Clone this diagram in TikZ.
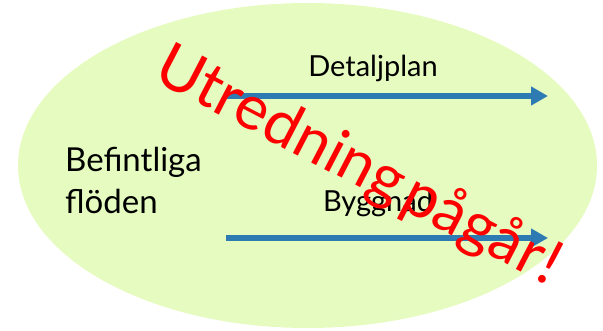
\documentclass[tikz,border=0pt]{standalone}
\usepackage{fontspec}
\setmainfont{Lato}
\usepackage{xcolor}
\definecolor{e6fbc0}{HTML}{E6FBC0}
\definecolor{2e7bb4}{HTML}{2E7BB4}
\usepackage{tikz}
\usetikzlibrary{arrows.meta}

\begin{document}
\begin{tikzpicture}[x=1pt, y=-1pt,
    flow/.style={color=2e7bb4, line width=6pt, -{Triangle[length=17pt, width=18pt]}},
    label/.style={inner sep=0pt, font=\fontsize{29}{35}\selectfont}]
                        \useasboundingbox (0, 0) rectangle (603, 331);

                        \fill[color=e6fbc0] (307.5, 165.5) ellipse [x radius=289.5, y radius=162.5];

                        \node (befintliga) at (65, 172) [anchor=base west, inner sep=0pt, font=\fontsize{33}{42}\selectfont] {Befintliga};
                        \node (floden) at (65, 214) [anchor=base west, inner sep=0pt, font=\fontsize{33}{42}\selectfont] {flöden};

                        \coordinate (d0) at (226, 96);
                        \coordinate (d1) at (548, 96);
                        \coordinate (b0) at (226, 238);
                        \coordinate (b1) at (548, 238);

                        \draw[flow] (d0) -- (d1);
                        \draw[flow] (b0) -- (b1);

                        \node (detaljplan) at (373, 77) [anchor=base, label] {Detaljplan};
                        \node (byggnad) at (378, 212) [anchor=base, label] {Byggnad};

                        % stamp over it all
                        \node (utredning) at (151, 79) [anchor=base west, rotate=-27.5, inner sep=0pt, text=red, font=\fontsize{62}{62}\selectfont] {Utredning\hspace{0.1em}pågår\hspace{0.02em}!};
                    \end{tikzpicture}
\end{document}
